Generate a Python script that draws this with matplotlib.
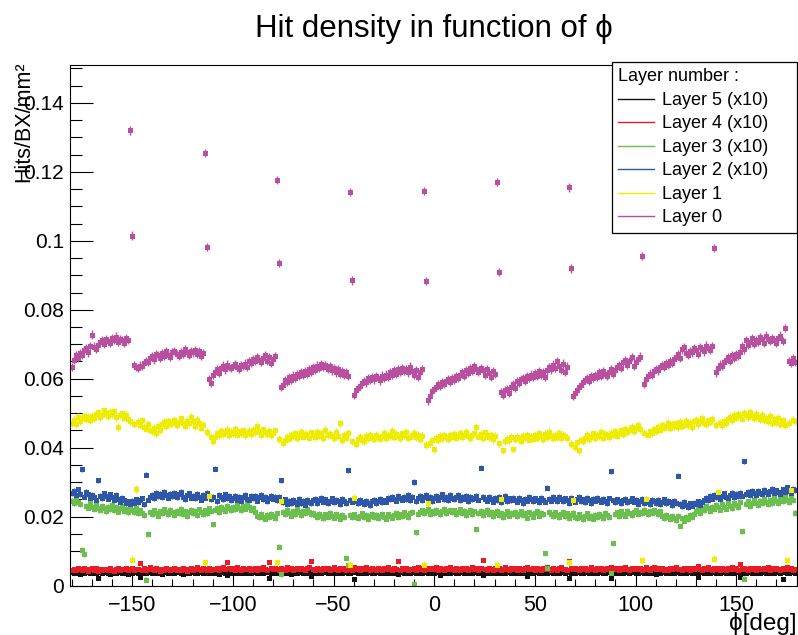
import numpy as np
import matplotlib
matplotlib.use('Agg')
import matplotlib.pyplot as plt
from matplotlib.ticker import MultipleLocator, FuncFormatter
from matplotlib.lines import Line2D

plt.rcParams['font.family'] = ['Liberation Sans', 'DejaVu Sans']

nan = float('nan')

# one bin per degree of phi
phi = np.arange(-180, 180)

# hit density per bin, in units of 1e-4 Hits/BX/mm2
# ten bins per row, first row starts at phi = -180
layer0 = [
    634, 655, 668, 660, 675, 668, 682, 690, 676, 694,
    728, 693, 686, 698, 705, 712, 700, 716, 709, 703,
    719, 713, 722, 707, 716, 711, 703, 718, 712, 1320,
    1015, 640, 633, 630, 638, 636, 645, 652, 648, 660,
    665, 656, 672, 668, 661, 674, 666, 679, 670, 664,
    676, 681, 672, 667, 678, 673, 685, 677, 670, 681,
    676, 684, 673, 679, 667, 675, 1254, 981, 600, 588,
    611, 620, 628, 616, 632, 638, 627, 641, 634, 630,
    637, 642, 633, 629, 639, 636, 644, 635, 652, 646,
    658, 651, 662, 655, 648, 660, 668, 651, 663, 645,
    657, 666, 1176, 935, 575, 583, 597, 590, 604, 596,
    609, 602, 613, 607, 618, 611, 622, 615, 628, 620,
    633, 626, 638, 630, 643, 635, 640, 629, 636, 624,
    631, 618, 627, 615, 622, 611, 619, 608, 1141, 885,
    552, 566, 573, 580, 587, 594, 589, 601, 596, 604,
    598, 607, 601, 595, 609, 603, 612, 606, 618, 611,
    624, 615, 627, 620, 632, 623, 629, 618, 635, 621,
    612, 626, 606, 619, 628, 1144, 883, 537, 550, 563,
    570, 577, 584, 579, 590, 586, 594, 598, 591, 603,
    597, 608, 601, 612, 620, 609, 626, 617, 632, 622,
    636, 627, 619, 630, 624, 612, 627, 617, 604, 623,
    614, 1170, 909, 560, 552, 566, 571, 558, 577, 584,
    573, 592, 588, 598, 603, 594, 608, 601, 612, 605,
    617, 609, 621, 612, 618, 606, 624, 633, 627, 641,
    630, 652, 638, 626, 644, 619, 635, 1155, 920, 549,
    558, 568, 575, 581, 589, 596, 602, 593, 608, 601,
    611, 604, 618, 609, 623, 614, 607, 620, 628, 615,
    625, 633, 639, 631, 647, 655, 641, 650, 662, 636,
    648, 657, 664, 955, 586, 598, 607, 615, 610, 622,
    629, 624, 634, 640, 633, 645, 639, 651, 646, 658,
    664, 672, 660, 685, 692, 675, 668, 681, 676, 688,
    683, 671, 692, 686, 679, 696, 690, 684, 694, 980,
    618, 630, 641, 637, 648, 655, 662, 651, 668, 660,
    672, 667, 678, 694, 685, 712, 698, 705, 718, 701,
    712, 706, 721, 714, 703, 725, 716, 709, 719, 712,
    704, 717, 725, 710, 748, nan, 652, 645, 661, 648,
]

layer1 = [
    472, 481, 468, 490, 477, 485, 493, 482, 488, 479,
    491, 486, 497, 502, 489, 495, 508, 499, 492, 503,
    497, 505, 488, 459, 494, 499, 487, 496, 484, 478,
    75, 468, 280, 474, 466, 479, 461, 455, 468, 452,
    447, 458, 443, 462, 451, 469, 474, 463, 477, 468,
    472, 481, 466, 475, 485, 470, 463, 478, 471, 488,
    476, 462, 481, 470, 458, 467, 67, 445, 260, 430,
    418, 432, 441, 436, 448, 439, 444, 452, 437, 446,
    441, 455, 438, 447, 443, 450, 436, 442, 449, 440,
    451, 444, 462, 447, 438, 453, 445, 440, 448, 437,
    443, 450, 67, 425, 244, 414, 422, 431, 426, 437,
    433, 441, 428, 436, 445, 432, 440, 437, 429, 444,
    438, 431, 446, 435, 442, 428, 451, 436, 440, 433,
    427, 445, 434, 470, 421, 438, 429, 443, 60, 418,
    253, 411, 424, 430, 422, 419, 433, 427, 436, 429,
    424, 438, 431, 426, 435, 442, 428, 437, 433, 448,
    430, 439, 434, 427, 441, 436, 445, 429, 432, 438,
    443, 431, 437, 424, 433, 60, 408, 240, 412, 421,
    395, 428, 422, 433, 427, 436, 430, 425, 438, 432,
    440, 429, 435, 443, 431, 438, 446, 433, 427, 436,
    441, 460, 432, 439, 428, 444, 436, 430, 437, 425,
    433, 60, 412, 250, 392, 418, 426, 421, 430, 395,
    424, 432, 427, 419, 435, 429, 438, 423, 431, 426,
    436, 428, 441, 433, 425, 439, 430, 445, 434, 428,
    437, 431, 442, 427, 436, 433, 429, 67, 410, 247,
    402, 415, 392, 423, 418, 429, 436, 424, 432, 441,
    427, 438, 433, 445, 429, 440, 436, 431, 443, 438,
    447, 435, 442, 450, 439, 455, 446, 452, 461, 449,
    457, 466, 453, 73, 442, 250, 438, 447, 441, 453,
    448, 459, 452, 466, 458, 463, 471, 457, 468, 462,
    470, 459, 474, 463, 467, 478, 465, 472, 460, 476,
    481, 469, 477, 486, 472, 468, 479, 474, 483, 78,
    465, 270, 472, 466, 478, 470, 483, 490, 479, 495,
    487, 498, 492, 484, 501, 496, 489, 504, 493, 485,
    497, 490, 483, 494, 479, 487, 476, 491, 470, 483,
    474, 486, 468, 479, 465, 73, 472, 276, 481, 476,
]

# layers 2 to 5 are already multiplied by 10
layer2 = [
    268, 274, 262, 279, 266, 337, 258, 271, 264, 255,
    263, 258, 249, 305, 261, 254, 267, 259, 252, 264,
    257, 248, 262, 251, 243, 255, 247, 239, 244, 236,
    245, 238, 250, 241, 247, 253, 235, 322, 249, 256,
    262, 254, 268, 259, 265, 257, 271, 263, 255, 266,
    260, 269, 256, 264, 272, 258, 251, 263, 267, 255,
    261, 254, 266, 257, 249, 262, 255, 268, 259, 251,
    257, 339, 245, 262, 256, 250, 264, 253, 259, 247,
    255, 261, 249, 258, 244, 256, 263, 251, 247, 259,
    254, 260, 246, 257, 263, 250, 258, 245, 255, 261,
    252, 258, 247, 256, 305, 241, 250, 236, 246, 239,
    248, 242, 236, 251, 240, 245, 233, 249, 241, 238,
    247, 252, 240, 248, 255, 243, 250, 238, 246, 253,
    241, 249, 244, 237, 251, 246, 240, 334, 248, 243,
    251, 245, 239, 248, 242, 236, 246, 240, 233, 245,
    249, 238, 244, 252, 241, 247, 243, 255, 250, 258,
    252, 246, 260, 254, 249, 257, 251, 263, 248, 256,
    300, 244, 253, 259, 247, 256, 262, 250, 257, 245,
    254, 260, 249, 258, 264, 251, 256, 248, 262, 255,
    250, 258, 263, 247, 256, 252, 259, 244, 257, 251,
    255, 261, 249, 342, 258, 252, 246, 257, 251, 243,
    254, 248, 256, 242, 251, 259, 245, 253, 247, 255,
    249, 243, 254, 247, 240, 252, 246, 256, 250, 244,
    253, 247, 241, 255, 249, 243, 284, 252, 246, 256,
    250, 244, 257, 251, 245, 253, 248, 240, 254, 247,
    243, 251, 256, 245, 250, 242, 254, 248, 239, 252,
    246, 255, 249, 243, 251, 245, 240, 253, 331, 247,
    242, 250, 244, 238, 248, 252, 241, 246, 253, 243,
    249, 237, 245, 251, 240, 247, 243, 236, 249, 244,
    240, 248, 235, 243, 250, 238, 245, 241, 234, 246,
    239, 319, 236, 230, 242, 234, 228, 238, 232, 240,
    236, 244, 233, 241, 248, 255, 247, 259, 252, 262,
    256, 264, 251, 260, 267, 258, 254, 263, 269, 257,
    265, 259, 268, 261, 360, 266, 271, 263, 274, 268,
    262, 275, 269, 264, 278, 270, 266, 273, 281, 268,
    276, 270, 264, 279, 272, 285, 274, 268, 281, 277,
]

layer3 = [
    246, 238, 251, 243, 235, 104, 90, 232, 226, 238,
    229, 221, 236, 224, 218, 231, 226, 215, 228, 222,
    233, 219, 227, 214, 225, 230, 217, 223, 212, 226,
    220, 213, 224, 209, 218, 211, 205, 17, 150, 212,
    206, 218, 211, 203, 215, 209, 221, 214, 207, 219,
    212, 205, 217, 210, 222, 208, 215, 202, 213, 219,
    210, 216, 204, 221, 213, 207, 218, 211, 224, 215,
    177, 220, 226, 213, 229, 222, 217, 231, 224, 219,
    228, 221, 233, 225, 218, 230, 223, 236, 227, 220,
    226, 214, 203, 198, 207, 200, 194, 205, 199, 208,
    201, 196, 209, 113, 32, 214, 206, 218, 210, 203,
    215, 208, 221, 212, 204, 217, 209, 222, 213, 206,
    211, 204, 199, 208, 202, 195, 206, 200, 210, 203,
    197, 207, 201, 194, 205, 199, 81, 60, 204, 198,
    206, 200, 195, 203, 209, 198, 204, 192, 201, 207,
    199, 205, 196, 202, 208, 200, 194, 206, 201, 197,
    204, 210, 198, 206, 201, 212, 205, 199, 209, 214,
    3, 154, 207, 213, 218, 210, 216, 221, 208, 215,
    211, 219, 213, 206, 217, 222, 209, 215, 220, 212,
    218, 206, 214, 221, 210, 216, 204, 213, 219, 208,
    215, 163, 211, 217, 205, 212, 219, 207, 214, 202,
    209, 216, 204, 211, 198, 208, 215, 203, 210, 206,
    213, 201, 208, 215, 204, 210, 197, 212, 206, 200,
    209, 215, 203, 211, 206, 93, 52, 214, 207, 201,
    212, 205, 199, 208, 214, 202, 209, 196, 204, 211,
    200, 195, 206, 198, 192, 203, 209, 197, 201, 194,
    205, 199, 208, 202, 196, 210, 204, 199, 35, 122,
    206, 212, 201, 215, 208, 203, 217, 210, 205, 213,
    218, 207, 214, 209, 220, 212, 206, 216, 211, 219,
    213, 207, 215, 201, 196, 205, 199, 192, 203, 197,
    190, 201, 174, 195, 188, 199, 193, 204, 198, 207,
    215, 222, 210, 226, 218, 231, 224, 216, 229, 221,
    234, 227, 220, 236, 229, 223, 238, 231, 225, 240,
    233, 227, 242, 157, 20, 236, 244, 230, 238, 247,
    239, 233, 245, 238, 251, 242, 236, 248, 240, 254,
    246, 239, 252, 244, 257, 248, 241, 255, 247, 210,
]

layer4 = [
    46, 49, 44, 51, 47, 45, 50, 48, 43, 47,
    50, 46, 52, 41, 48, 45, 49, 47, 44, 50,
    46, 43, 48, 51, 45, 49, 47, 52, 44, 48,
    50, 45, 47, 49, 65, 46, 51, 44, 48, 53,
    47, 45, 50, 48, 43, 49, 46, 51, 47, 44,
    48, 52, 46, 49, 45, 50, 47, 43, 48, 51,
    46, 49, 53, 47, 44, 50, 48, 46, 51, 45,
    49, 47, 52, 46, 50, 55, 48, 68, 51, 47,
    50, 46, 53, 48, 45, 51, 49, 47, 52, 44,
    48, 51, 46, 50, 47, 53, 49, 45, 68, 50,
    47, 52, 48, 45, 51, 49, 46, 53, 48, 50,
    45, 49, 52, 47, 51, 48, 44, 50, 54, 70,
    48, 46, 51, 49, 45, 52, 47, 50, 46, 49,
    53, 47, 44, 50, 48, 52, 46, 49, 51, 45,
    55, 48, 51, 46, 50, 47, 53, 49, 45, 51,
    48, 46, 52, 49, 44, 50, 47, 53, 48, 45,
    51, 49, 71, 46, 50, 48, 52, 45, 49, 47,
    50, 46, 53, 48, 51, 44, 49, 52, 47, 50,
    48, 54, 46, 51, 49, 45, 50, 47, 53, 48,
    45, 51, 49, 46, 52, 48, 50, 44, 49, 53,
    47, 50, 46, 52, 73, 49, 45, 51, 48, 46,
    52, 47, 50, 45, 49, 53, 48, 46, 51, 47,
    50, 44, 52, 48, 46, 51, 55, 49, 47, 50,
    46, 52, 48, 45, 50, 47, 53, 49, 44, 51,
    48, 46, 50, 53, 47, 49, 45, 70, 52, 48,
    51, 47, 45, 50, 48, 52, 46, 49, 53, 47,
    45, 50, 48, 52, 46, 49, 51, 47, 55, 50,
    48, 52, 46, 50, 47, 53, 49, 45, 51, 48,
    52, 47, 50, 46, 49, 53, 48, 45, 51, 54,
    47, 50, 48, 52, 46, 49, 45, 51, 48, 50,
    53, 47, 49, 46, 51, 48, 52, 45, 50, 47,
    51, 56, 48, 46, 50, 47, 53, 49, 45, 51,
    48, 50, 46, 52, 49, 45, 51, 47, 53, 48,
    50, 46, 62, 49, 52, 47, 45, 51, 48, 50,
    46, 52, 49, 47, 51, 48, 53, 46, 50, 47,
    52, 48, 45, 50, 47, 53, 49, 51, 46, 48,
]

layer5 = [
    38, 35, 40, 37, 34, 39, 36, 41, 38, 35,
    37, 40, 36, 22, 39, 35, 38, 41, 36, 34,
    39, 37, 35, 40, 38, 36, 41, 37, 34, 39,
    36, 38, 40, 35, 24, 37, 39, 36, 41, 38,
    35, 39, 37, 40, 36, 34, 38, 41, 37, 35,
    39, 36, 38, 40, 35, 33, 37, 39, 36, 40,
    38, 35, 37, 41, 39, 36, 38, 35, 40, 37,
    36, 39, 37, 34, 38, 40, 36, 30, 38, 35,
    39, 37, 41, 36, 38, 35, 40, 37, 39, 36,
    38, 40, 35, 37, 39, 36, 41, 38, 22, 37,
    40, 36, 38, 35, 39, 37, 41, 36, 38, 34,
    37, 39, 36, 40, 38, 35, 39, 37, 41, 27,
    38, 36, 40, 37, 35, 39, 38, 36, 40, 37,
    35, 39, 37, 41, 36, 38, 40, 35, 37, 39,
    20, 38, 36, 40, 37, 39, 35, 38, 41, 36,
    37, 40, 38, 35, 39, 36, 41, 37, 38, 35,
    39, 36, 33, 38, 40, 37, 35, 39, 36, 41,
    38, 35, 37, 40, 36, 39, 38, 35, 41, 37,
    36, 39, 38, 30, 37, 40, 35, 38, 36, 39,
    41, 37, 35, 39, 38, 36, 40, 37, 39, 35,
    38, 40, 36, 39, 30, 37, 41, 35, 38, 36,
    39, 37, 40, 36, 38, 35, 39, 41, 37, 38,
    36, 39, 37, 40, 35, 38, 27, 36, 39, 37,
    40, 38, 35, 39, 37, 41, 36, 38, 40, 35,
    37, 39, 36, 38, 40, 35, 39, 22, 37, 40,
    36, 38, 41, 37, 35, 39, 38, 36, 40, 37,
    39, 35, 38, 40, 36, 37, 39, 41, 23, 38,
    36, 40, 37, 39, 35, 38, 41, 36, 38, 39,
    37, 35, 40, 38, 36, 39, 37, 41, 35, 38,
    33, 39, 36, 40, 38, 35, 39, 37, 41, 36,
    38, 40, 35, 37, 39, 36, 41, 38, 35, 39,
    37, 26, 38, 40, 36, 39, 37, 35, 41, 38,
    36, 39, 37, 40, 38, 35, 39, 37, 41, 36,
    38, 40, 25, 37, 39, 36, 38, 41, 35, 39,
    37, 39, 36, 40, 38, 35, 41, 37, 39, 36,
    38, 40, 36, 20, 39, 37, 35, 41, 38, 36,
]

# drawing / legend order
layers = [layer5, layer4, layer3, layer2, layer1, layer0]
labels = ['Layer 5 (x10)', 'Layer 4 (x10)', 'Layer 3 (x10)',
          'Layer 2 (x10)', 'Layer 1', 'Layer 0']
errors = [0.0004, 0.0004, 0.0008, 0.0008, 0.0011, 0.0012]
colors = ['#111111', '#e81c24', '#6bbf4c', '#2e56a9', '#eeec00', '#b8509f']

W, H = 798, 635
fig = plt.figure(figsize=(W / 100, H / 100), dpi=100)
ax = fig.add_axes([70 / W, 49.5 / H, 727 / W, 520.5 / H])

for vals, col, err in zip(layers, colors, errors):
    y = np.array(vals, dtype=float) * 1e-4
    ax.errorbar(phi, y, yerr=err, fmt='s', ms=3.6, mew=0, color=col,
                ecolor=col, elinewidth=1.0, capsize=2.0, capthick=1.0)

ax.set_xlim(-180.9, 180.2)
ax.set_ylim(0, 0.151)

ax.xaxis.set_major_locator(MultipleLocator(50))
ax.xaxis.set_minor_locator(MultipleLocator(10))
ax.yaxis.set_major_locator(MultipleLocator(0.02))
ax.yaxis.set_minor_locator(MultipleLocator(0.005))
ax.yaxis.set_major_formatter(FuncFormatter(lambda v, p: f'{v:g}'))

ax.tick_params(axis='both', which='both', direction='in', top=False, right=False)
ax.tick_params(axis='y', which='major', length=16.5, width=0.8, pad=4.5, labelsize=15)
ax.tick_params(axis='y', which='minor', length=8.3, width=0.8)
ax.tick_params(axis='x', which='major', length=10, width=0.8, pad=7, labelsize=15.5)
ax.tick_params(axis='x', which='minor', length=5, width=0.8)
for s in ax.spines.values():
    s.set_linewidth(0.8)

handles = [Line2D([], [], color=c, lw=1) for c in colors]
leg = ax.legend(handles, labels, title='Layer number :', alignment='left',
                loc='upper left', mode='expand',
                bbox_to_anchor=(612 / W, 1 - 229 / H, 185 / W, 167 / H),
                bbox_transform=fig.transFigure, fancybox=False,
                edgecolor='black', framealpha=1, fontsize=13, title_fontsize=13,
                handlelength=2.0, handletextpad=0.4, labelspacing=0.36,
                borderpad=0.35, borderaxespad=0)
leg.get_frame().set_linewidth(0.9)

fig.text(433.5 / W, 1 - 37 / H, 'Hit density in function of ϕ',
         ha='center', va='baseline', fontsize=22.5)
fig.text(24 / W, 1 - 62 / H, 'Hits/BX/mm²', rotation=90,
         ha='center', va='top', fontsize=15.5)
fig.text(797 / W, 1 - 630 / H, 'ϕ[deg]', ha='right', va='baseline', fontsize=17.5)

fig.savefig('out.png', dpi=100)
